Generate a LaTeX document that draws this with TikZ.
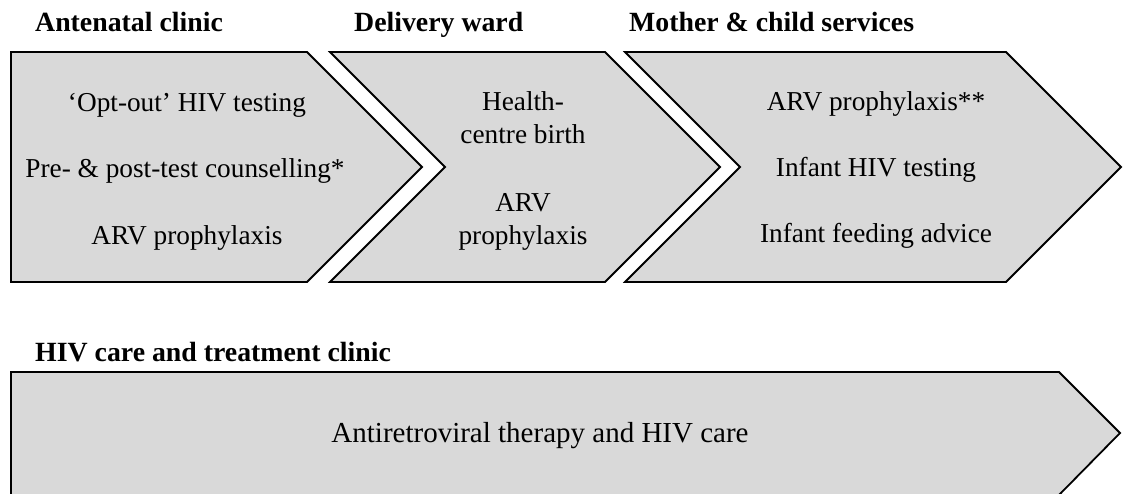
\documentclass[tikz,border=0pt]{standalone}
\usepackage{fontspec}
\setmainfont{Liberation Serif}
\begin{document}
\begin{tikzpicture}[x=1pt,y=-1pt,
  chev/.style={draw=black,line width=1.8pt,fill=chevgray,line join=miter},
  body/.style={anchor=base,inner sep=0pt,font=\fontsize{27.3}{30}\selectfont},
  head/.style={anchor=base west,inner sep=0pt,font=\fontsize{27.8}{30}\selectfont\bfseries}]
\definecolor{chevgray}{HTML}{D9D9D9}
\useasboundingbox (0,0) rectangle (1123,494);
% chevrons
\draw[chev] (11,52) -- (307,52) -- (422,167) -- (307,282) -- (11,282) -- cycle;
\draw[chev] (330,52) -- (605,52) -- (720,167) -- (605,282) -- (330,282) -- (445,167) -- cycle;
\draw[chev] (625,52) -- (1006,52) -- (1121,167) -- (1006,282) -- (625,282) -- (740,167) -- cycle;
\draw[chev] (11,372) -- (1059,372) -- (1120,433) -- (1059,495) -- (11,495) -- cycle;
% headers
\node[head] (h1) at (35,32) {Antenatal clinic};
\node[head] (h2) at (354,32) {Delivery ward};
\node[head] (h3) at (629,32) {Mother \& child services};
\node[head] (h4) at (35,361) {HIV care and treatment clinic};
% column 1
\node[body] (a1) at (187,112) {‘Opt-out’ HIV testing};
\node[body] (a2) at (185,178) {Pre- \& post-test counselling*};
\node[body] (a3) at (187,244) {ARV prophylaxis};
% column 2
\node[body] (b1) at (523,111) {Health-};
\node[body] (b2) at (523,144) {centre birth};
\node[body] (b3) at (523,212) {ARV};
\node[body] (b4) at (523,244) {prophylaxis};
% column 3
\node[body] (c1) at (876,111) {ARV prophylaxis**};
\node[body] (c2) at (876,177) {Infant HIV testing};
\node[body] (c3) at (876,243) {Infant feeding advice};
% bottom
\node[body,font=\fontsize{29}{32}\selectfont] (d1) at (540,442) {Antiretroviral therapy and HIV care};
\end{tikzpicture}
\end{document}
